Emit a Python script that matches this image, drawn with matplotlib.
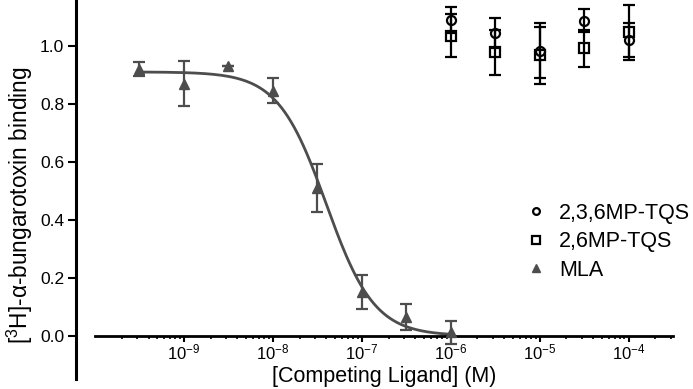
import numpy as np
import matplotlib
matplotlib.use("Agg")
import matplotlib.pyplot as plt
from matplotlib.ticker import FixedLocator, NullFormatter

plt.rcParams['font.family'] = ['Liberation Sans', 'DejaVu Sans']
plt.rcParams['mathtext.fontset'] = 'custom'
plt.rcParams['mathtext.rm'] = 'Liberation Sans'
plt.rcParams['mathtext.it'] = 'Liberation Sans:italic'

# ---------------- data ----------------
mla_conc = [3.16e-10, 1e-9, 3.16e-9, 1e-8, 3.16e-8, 1e-7, 3.16e-7, 1e-6]
mla_bind = [0.92, 0.87, 0.93, 0.845, 0.51, 0.15, 0.066, 0.012]
mla_err = [0.025, 0.078, 0.0, 0.043, 0.084, 0.058, 0.045, 0.04]

tqs236_conc = [1e-6, 3.16e-6, 1e-5, 3.16e-5, 1e-4]
tqs236_bind = [1.09, 1.043, 0.983, 1.086, 1.02]
tqs236_err = [0.045, 0.052, 0.094, 0.04, 0.06]

tqs26_conc = [1e-6, 3.16e-6, 1e-5, 3.16e-5, 1e-4]
tqs26_bind = [1.035, 0.977, 0.968, 0.991, 1.046]
tqs26_err = [0.075, 0.077, 0.098, 0.063, 0.094]

# sigmoid fit for MLA
fit_top = 0.91
fit_bottom = 0.0
fit_logic50 = -7.40
fit_hill = 1.6

major_ticks = [1e-9, 1e-8, 1e-7, 1e-6, 1e-5, 1e-4]
major_labels = ['$10^{-9}$', '$10^{-8}$', '$10^{-7}$', '$10^{-6}$', '$10^{-5}$', '$10^{-4}$']
y_ticks = [0.0, 0.2, 0.4, 0.6, 0.8, 1.0]

grey = '#4d4d4d'

# ---------------- plot ----------------
fig = plt.figure(figsize=(6.93, 3.89), dpi=100)
ax = fig.add_axes([76 / 693, 10 / 389, 597 / 693, 379 / 389])

logx = np.linspace(np.log10(mla_conc[0]), -6.0, 200)
curve = fit_bottom + (fit_top - fit_bottom) / (1 + 10 ** ((logx - fit_logic50) * fit_hill))
ax.plot(10 ** logx, curve, color=grey, lw=2, zorder=2)

ax.errorbar(mla_conc, mla_bind, yerr=mla_err, fmt='^', color=grey, ms=7.5,
            ecolor=grey, elinewidth=1.6, capsize=4, capthick=1.6, label='MLA', zorder=3)
ax.errorbar(tqs236_conc, tqs236_bind, yerr=tqs236_err, fmt='o', mfc='none', mec='black',
            mew=1.6, ms=6.5, ecolor='black', elinewidth=1.6, capsize=4, capthick=1.6,
            label='2,3,6MP-TQS', zorder=3)
ax.errorbar(tqs26_conc, tqs26_bind, yerr=tqs26_err, fmt='s', mfc='none', mec='black',
            mew=1.6, ms=7, ecolor='black', elinewidth=1.6, capsize=4, capthick=1.6,
            label='2,6MP-TQS', zorder=3)

ax.set_xscale('log')
ax.set_xlim(10 ** -10.2135, 10 ** -3.5)
ax.set_ylim(-0.149, 1.158)

ax.spines['top'].set_visible(False)
ax.spines['right'].set_visible(False)
ax.spines['bottom'].set_position(('data', 0))
ax.spines['bottom'].set_bounds(1e-10, 10 ** -3.5)
ax.spines['bottom'].set_linewidth(2)
ax.spines['left'].set_linewidth(2.2)

minor_ticks = [m * 10.0 ** e for e in range(-10, -3) for m in range(2, 10)]
minor_ticks = [t for t in minor_ticks if t <= 10 ** -3.5]
ax.xaxis.set_major_locator(FixedLocator(major_ticks))
ax.set_xticklabels(major_labels)
ax.xaxis.set_minor_locator(FixedLocator(minor_ticks))
ax.xaxis.set_minor_formatter(NullFormatter())
ax.tick_params(axis='x', which='major', direction='out', length=4, width=1.5,
               labelsize=12, pad=1)
ax.tick_params(axis='x', which='minor', direction='out', length=2.5, width=1.2)

ax.set_yticks(y_ticks)
ax.set_yticklabels(['0.0', '0.2', '0.4', '0.6', '0.8', '1.0'])
ax.tick_params(axis='y', direction='out', length=5.5, width=1.5, labelsize=12.5, pad=3)

ax.set_xlabel('[Competing Ligand] (M)', fontsize=15.5)
ax.xaxis.set_label_coords((384 - 76) / 597, 0.035)
ax.set_ylabel('[$^{3}$H]-α-bungarotoxin binding', fontsize=16.3)
ax.yaxis.set_label_coords((35 - 76) / 597, (389 - 205 - 10) / 379)

handles, labels = ax.get_legend_handles_labels()
order = [1, 2, 0]
leg = ax.legend([handles[i][0] for i in order], [labels[i] for i in order],
                loc='upper left', bbox_to_anchor=(514 / 693, 1 - 192 / 389),
                bbox_transform=fig.transFigure, frameon=False, fontsize=15.5,
                handlelength=1.0, handletextpad=0.6, labelspacing=0.35,
                borderpad=0, markerscale=0.75)

fig.savefig('out.png', dpi=100)
